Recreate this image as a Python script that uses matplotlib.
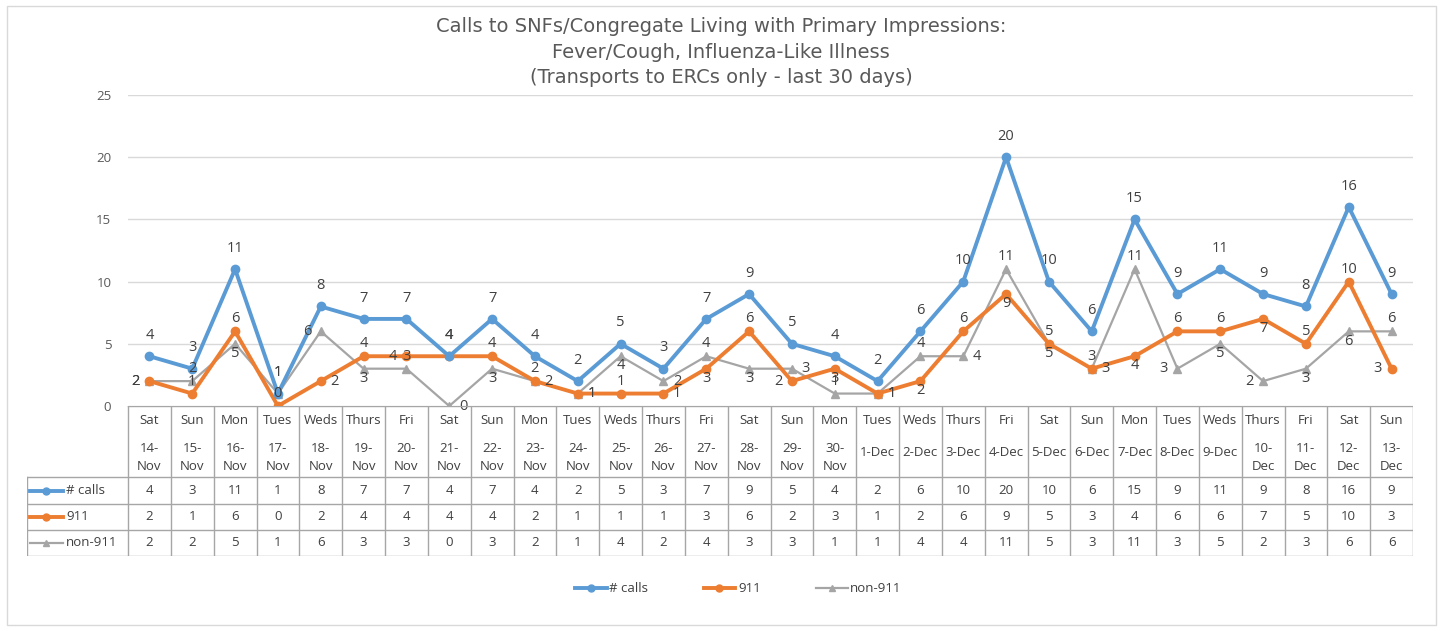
import matplotlib.pyplot as plt
from matplotlib.patches import Rectangle
from matplotlib.lines import Line2D

W, H = 1442, 631
DPI = 100

days = ['Sat', 'Sun', 'Mon', 'Tues', 'Weds', 'Thurs', 'Fri',
        'Sat', 'Sun', 'Mon', 'Tues', 'Weds', 'Thurs', 'Fri',
        'Sat', 'Sun', 'Mon', 'Tues', 'Weds', 'Thurs', 'Fri',
        'Sat', 'Sun', 'Mon', 'Tues', 'Weds', 'Thurs', 'Fri',
        'Sat', 'Sun']
dates = ['14-Nov', '15-Nov', '16-Nov', '17-Nov', '18-Nov', '19-Nov', '20-Nov',
         '21-Nov', '22-Nov', '23-Nov', '24-Nov', '25-Nov', '26-Nov', '27-Nov',
         '28-Nov', '29-Nov', '30-Nov', '1-Dec', '2-Dec', '3-Dec', '4-Dec',
         '5-Dec', '6-Dec', '7-Dec', '8-Dec', '9-Dec', '10-Dec', '11-Dec',
         '12-Dec', '13-Dec']
calls = [4, 3, 11, 1, 8, 7, 7, 4, 7, 4, 2, 5, 3, 7, 9, 5, 4, 2, 6, 10, 20,
         10, 6, 15, 9, 11, 9, 8, 16, 9]
calls_911 = [2, 1, 6, 0, 2, 4, 4, 4, 4, 2, 1, 1, 1, 3, 6, 2, 3, 1, 2, 6, 9,
             5, 3, 4, 6, 6, 7, 5, 10, 3]
non_911 = [2, 2, 5, 1, 6, 3, 3, 0, 3, 2, 1, 4, 2, 4, 3, 3, 1, 1, 4, 4, 11,
           5, 3, 11, 3, 5, 2, 3, 6, 6]
names = ['# calls', '911', 'non-911']

# label placement (A=high above, a=above, b=below, l=left, r=right)
pos_calls = 'A' * 30
pos_911 = 'laaaralAaarar' + 'balbrbabarbaabaal'
pos_non = 'labAlbarbr' + 'rbrabrarar' + 'abaalblbba'

blue, orange, grey = '#5B9BD5', '#ED7D31', '#A5A5A5'
txt = '#404040'
grid_c = '#D9D9D9'
tbl_c = '#A6A6A6'

fig = plt.figure(figsize=(W / DPI, H / DPI), dpi=DPI)
fig.patches.append(Rectangle((7 / W, 1 - 625 / H), 1429 / W, 619 / H,
                             transform=fig.transFigure, fill=False,
                             edgecolor=grid_c, lw=1))

# main plot
x0, x1, y0, y1 = 128, 1413, 95, 406
ax = fig.add_axes([x0 / W, 1 - y1 / H, (x1 - x0) / W, (y1 - y0) / H])
xs = list(range(len(calls)))
ax.plot(xs, calls, color=blue, lw=2.8, marker='o', ms=6, zorder=4)
ax.plot(xs, calls_911, color=orange, lw=2.8, marker='o', ms=6, zorder=3)
ax.plot(xs, non_911, color=grey, lw=1.6, marker='^', ms=6, zorder=2)
ax.set_xlim(-0.5, 29.5)
ax.set_ylim(0, 25)
ax.set_yticks([0, 5, 10, 15, 20, 25])
ax.yaxis.grid(True, color=grid_c, lw=1)
ax.set_axisbelow(True)
ax.set_xticks([])
for s in ax.spines.values():
    s.set_visible(False)
ax.tick_params(axis='y', length=0, pad=12, labelsize=9.5, labelcolor='#595959')
for t in ax.get_yticklabels():
    t.set_fontfamily('Open Sans')

offs = {'A': (0, 15), 'a': (0, 9), 'b': (0, -7), 'l': (-10, 0), 'r': (10, 0)}
for vals, poss in [(non_911, pos_non), (calls_911, pos_911), (calls, pos_calls)]:
    for i, v in enumerate(vals):
        ax.annotate(str(v), (i, v), xytext=offs[poss[i]], textcoords='offset points',
                    ha='center', va='center', fontsize=10.5, color=txt,
                    family='Open Sans', annotation_clip=False, zorder=6)

fig.text(0.5, 1 - 52 / H,
         'Calls to SNFs/Congregate Living with Primary Impressions:\n'
         'Fever/Cough, Influenza-Like Illness\n'
         '(Transports to ERCs only - last 30 days)',
         ha='center', va='center', fontsize=14, color='#595959',
         linespacing=1.45, family='DejaVu Sans')

# data table
colw = (x1 - x0) / 30.0
lx = 27
tb = fig.add_axes([lx / W, 1 - 556 / H, (x1 - lx) / W, (556 - 406) / H])
tb.set_xlim(-0.5 - (x0 - lx) / colw, 29.5)
tb.set_ylim(556, 406)
tb.axis('off')
rows = [406, 477, 504, 530, 556]
xl = -0.5 - (x0 - lx) / colw
for yy in rows:
    xa = -0.5 if yy == 406 else xl
    tb.plot([xa, 29.5], [yy, yy], color=tbl_c, lw=1)
for i in range(31):
    tb.plot([i - 0.5, i - 0.5], [406, 556], color=tbl_c, lw=1)
tb.plot([xl, xl], [477, 556], color=tbl_c, lw=1)

for i in range(30):
    tb.text(i, 420, days[i], ha='center', va='center', fontsize=9.5,
            color=txt, family='Open Sans')
    d, m = dates[i].split('-')
    if len(d) == 1:
        tb.text(i, 453, dates[i], ha='center', va='center', fontsize=9.5,
                color=txt, family='Open Sans')
    else:
        tb.text(i, 448, d + '-', ha='center', va='center', fontsize=9.5,
                color=txt, family='Open Sans')
        tb.text(i, 466, m, ha='center', va='center', fontsize=9.5,
                color=txt, family='Open Sans')

series = [(calls, blue, 'o', 2.8), (calls_911, orange, 'o', 2.8),
          (non_911, grey, '^', 1.6)]
for r, (vals, c, mk, lw) in enumerate(series):
    yc = (rows[r + 1] + rows[r + 2]) / 2
    for i, v in enumerate(vals):
        tb.text(i, yc, str(v), ha='center', va='center', fontsize=9.5,
                color=txt, family='Open Sans')
    ka = xl + 3 / colw
    kb = xl + 36 / colw
    tb.plot([ka, kb], [yc, yc], color=c, lw=lw)
    tb.plot([(ka + kb) / 2], [yc], color=c, marker=mk, ms=5)
    tb.text(kb + 3 / colw, yc, names[r], ha='left', va='center', fontsize=9.5,
            color=txt, family='Open Sans')

# legend
handles = [Line2D([], [], color=c, lw=lw, marker=mk, ms=5)
           for _, c, mk, lw in series]
fig.legend(handles, names, loc='center', bbox_to_anchor=(0.512, 1 - 589 / H),
           ncol=3, frameon=False, handlelength=2.4,
           handletextpad=0.2, columnspacing=4.2,
           prop={'family': 'Open Sans', 'size': 9.5})
for t in fig.legends[0].get_texts():
    t.set_color(txt)

fig.savefig('out.png', dpi=DPI)
